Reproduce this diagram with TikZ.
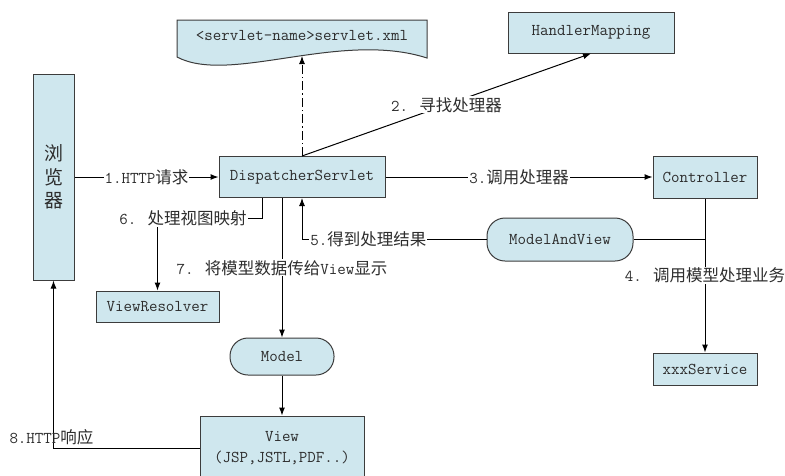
\documentclass[tikz,border=0pt]{standalone}
\usepackage{fontspec}
\newfontfamily\cjk{Noto Sans CJK SC}
\usetikzlibrary{arrows.meta}
\definecolor{boxfill}{RGB}{207,231,238}
\definecolor{boxline}{RGB}{60,60,60}
\definecolor{txt}{RGB}{45,45,45}
\newcommand{\zh}[1]{{\cjk\fontsize{16.5}{19}\selectfont #1}}
\tikzset{>={Latex[length=8pt,width=6pt]},
  every node/.style={font=\ttfamily\fontsize{16.5}{19}\selectfont, text=txt},
  box/.style={draw=boxline, fill=boxfill, inner sep=0pt},
  pill/.style={box, rounded corners=18pt},
  lbl/.style={fill=white, inner sep=1pt}}

\begin{document}
\begin{tikzpicture}[x=1pt,y=-1pt,line width=1pt]
   \useasboundingbox (0,0) rectangle (785,475);
   % boxes
   \node[box, minimum width=41pt, minimum height=206pt, text width=41pt, align=center,
         font=\cjk\fontsize{19}{23.5}\selectfont] (browser) at (53.5,177) {浏\\览\\器};
   \draw[boxline, fill=boxfill] (177,20) -- (427,20) -- (427,58)
      .. controls (340,30) and (230,85) .. (177,57) -- cycle;
   \node (xml) at (302,36) {<servlet-name>servlet.xml};
   \coordinate (xmlb) at (302,56);
   \node[box, minimum width=166pt, minimum height=41pt] (hm)    at (591,32.5)  {HandlerMapping};
   \node[box, minimum width=166pt, minimum height=41pt] (ds)    at (302,177)   {DispatcherServlet};
   \node[box, minimum width=104pt, minimum height=42pt] (ctl)   at (705,177)   {Controller};
   \node[pill, minimum width=146pt, minimum height=43pt] (mav)  at (560,239.5) {ModelAndView};
   \node[box, minimum width=104pt, minimum height=32pt] (svc)   at (705,369)   {xxxService};
   \node[box, minimum width=123pt, minimum height=31pt] (vr)    at (157.5,306.5) {ViewResolver};
   \node[pill, minimum width=104pt, minimum height=37pt] (model) at (282,356.5) {Model};
   \node[box, minimum width=164pt, minimum height=64pt, align=center,
         font=\ttfamily\fontsize{16.5}{21}\selectfont] (view) at (282,448) {View\\(JSP,JSTL,PDF..)};
   % connectors
   \draw[->] (browser) -- node[lbl] {1.HTTP\zh{请求}} (ds);
   \draw[->] (ds.north) -- node[lbl] {2. \zh{寻找处理器}} (hm.south);
   \draw[->, dash pattern=on 9pt off 3pt on 1.5pt off 3pt] (ds.north) -- (xmlb);
   \draw[->] (ds) -- node[lbl] {3.\zh{调用处理器}} (ctl);
   \draw[->] (ctl) -- node[lbl] {4. \zh{调用模型处理业务}} (svc);
   \coordinate (c5) at (ctl.south |- mav);
   \draw (c5) -- (mav);
   \draw[->] (mav) -| node[lbl, pos=0.32] {5.\zh{得到处理结果}} (ds.south);
   \coordinate (c6) at (157.5,218);
   \draw[->] ([xshift=-40pt]ds.south) |- (c6) -- (vr);
   \node[lbl] (l6) at (183,218) {6. \zh{处理视图映射}};
   \draw[->] ([xshift=-20pt]ds.south) -- node[lbl] {7. \zh{将模型数据传给}View\zh{显示}} (model);
   \draw[->] (model) -- (view);
   \draw[->] (view.west) -| (browser.south);
   \node[anchor=west, inner sep=0pt] (l8) at (9,437) {8.HTTP\zh{响应}};
\end{tikzpicture}
\end{document}
